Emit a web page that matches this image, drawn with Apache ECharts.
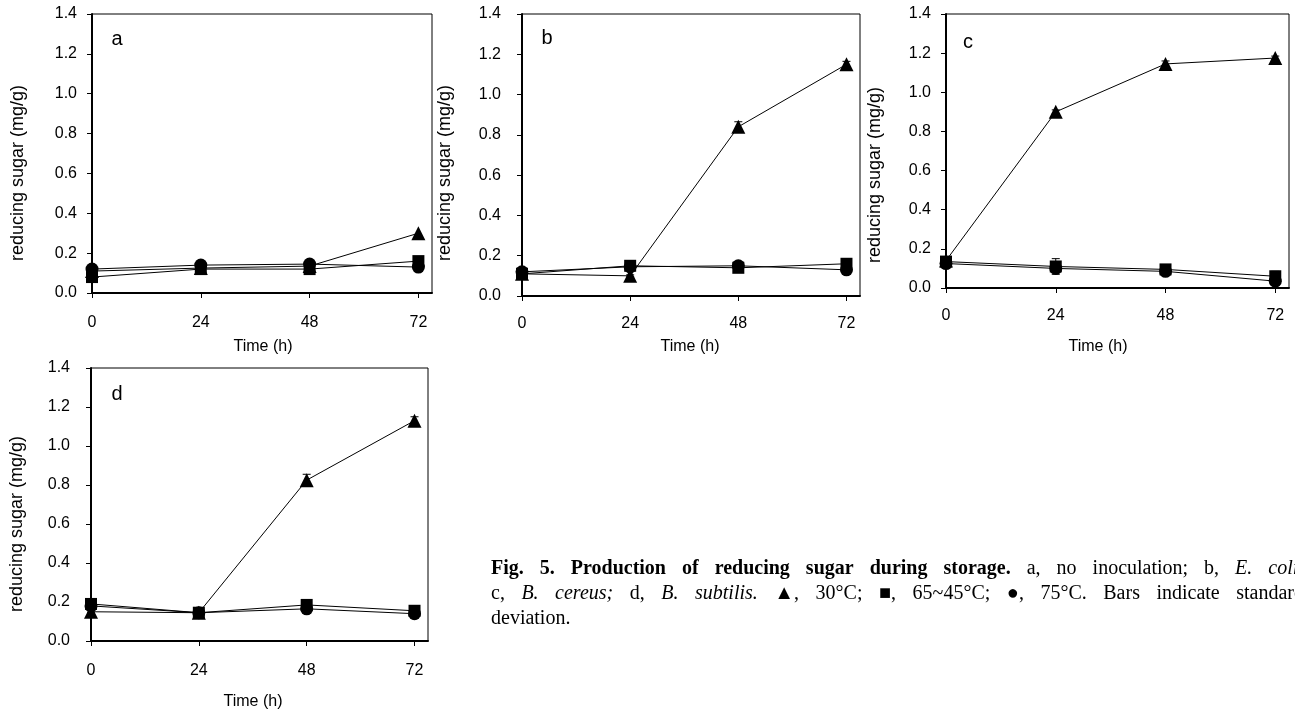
<!DOCTYPE html>
<html>
<head>
<meta charset="utf-8">
<script src="https://cdn.jsdelivr.net/npm/echarts@6/dist/echarts.min.js"></script>
<style>
    html, body { margin: 0; padding: 0; background: #fff; }
    #chart { width: 1295px; height: 713px; }
</style>
</head>
<body>
<div id="chart"></div>
<script>
// Time points (h)
const hours = [0, 24, 48, 72];

// Reducing sugar (mg/g) - a, no inoculation
const aTri = [0.11, 0.125, 0.135, 0.30];
const aSq  = [0.08, 0.12, 0.12, 0.16];
const aCir = [0.12, 0.14, 0.145, 0.13];
// b, E. coli
const bTri = [0.11, 0.10, 0.84, 1.15];
const bSq  = [0.11, 0.15, 0.14, 0.16];
const bCir = [0.12, 0.145, 0.15, 0.13];
// c, B. cereus
const cTri = [0.14, 0.90, 1.145, 1.175];
const cSq  = [0.135, 0.11, 0.095, 0.06];
const cCir = [0.125, 0.10, 0.085, 0.035];
// d, B. subtilis
const dTri = [0.15, 0.145, 0.825, 1.13];
const dSq  = [0.19, 0.145, 0.185, 0.155];
const dCir = [0.18, 0.145, 0.165, 0.14];

// Standard deviations (only the visible ones)
const zeroErr  = [0, 0, 0, 0];
const bTriErr  = [0.005, 0.005, 0.025, 0.015];
const cTriErr  = [0.01, 0.01, 0.015, 0.01];
const cSqErr   = [0.01, 0.04, 0.01, 0.025];
const dTriErr  = [0.005, 0.005, 0.03, 0.02];

const panels = [
    { letter: 'a', tri: aTri, sq: aSq, cir: aCir, triErr: zeroErr, sqErr: zeroErr,
      grid: { left: 92, top: 14, width: 340, height: 279 }, labelMargin: 15, xLabelMargin: 22,
      letterPos: [117, 39], yNamePos: [18, 173], xNamePos: [263, 347] },
    { letter: 'b', tri: bTri, sq: bSq, cir: bCir, triErr: bTriErr, sqErr: zeroErr,
      grid: { left: 522, top: 14, width: 338, height: 282 }, labelMargin: 21, xLabelMargin: 20,
      letterPos: [547, 38], yNamePos: [445, 173], xNamePos: [690, 347] },
    { letter: 'c', tri: cTri, sq: cSq, cir: cCir, triErr: cTriErr, sqErr: cSqErr,
      grid: { left: 946, top: 14, width: 343, height: 274 }, labelMargin: 15, xLabelMargin: 20,
      letterPos: [968, 42], yNamePos: [875, 175], xNamePos: [1098, 347] },
    { letter: 'd', tri: dTri, sq: dSq, cir: dCir, triErr: dTriErr, sqErr: zeroErr,
      grid: { left: 91, top: 368, width: 337, height: 273 }, labelMargin: 21, xLabelMargin: 22,
      letterPos: [117, 394], yNamePos: [17, 524], xNamePos: [253, 702] }
];

const sansFont = '"Liberation Sans", Arial, sans-serif';
const serifFont = '"Liberation Serif", "Times New Roman", serif';

const chart = echarts.init(document.getElementById('chart'), null, { renderer: 'canvas' });

const grids = [], xAxes = [], yAxes = [], series = [], graphics = [];

function errorBars(idx, vals, errs) {
    return {
        type: 'custom',
        xAxisIndex: idx,
        yAxisIndex: idx,
        z: 1,
        silent: true,
        data: hours.map((h, i) => [h, vals[i], errs[i]]),
        renderItem: (params, api) => {
            const e = api.value(2);
            if (!e) return null;
            const x = api.value(0), y = api.value(1);
            const top = api.coord([x, y + e]);
            const bot = api.coord([x, y - e]);
            const st = { stroke: '#000', lineWidth: 1 };
            return {
                type: 'group',
                children: [
                    { type: 'line', shape: { x1: top[0], y1: top[1], x2: bot[0], y2: bot[1] }, style: st },
                    { type: 'line', shape: { x1: top[0] - 4, y1: top[1], x2: top[0] + 4, y2: top[1] }, style: st },
                    { type: 'line', shape: { x1: bot[0] - 4, y1: bot[1], x2: bot[0] + 4, y2: bot[1] }, style: st }
                ]
            };
        }
    };
}

function lineSeries(idx, vals, symbol, size) {
    return {
        type: 'line',
        xAxisIndex: idx,
        yAxisIndex: idx,
        z: 3,
        data: hours.map((h, i) => [h, vals[i]]),
        symbol: symbol,
        symbolSize: size,
        showSymbol: true,
        itemStyle: { color: '#000' },
        lineStyle: { color: '#000', width: 1 },
        silent: true
    };
}

panels.forEach((p, idx) => {
    grids.push(Object.assign({ show: true, borderColor: '#000', borderWidth: 1 }, p.grid));

    xAxes.push({
        type: 'value',
        gridIndex: idx,
        min: 0,
        max: 75,
        interval: 24,
        axisLine: { onZero: false, lineStyle: { color: '#000', width: 2 } },
        axisTick: { inside: false, length: 5, customValues: hours, lineStyle: { color: '#000' } },
        axisLabel: { customValues: hours, margin: p.xLabelMargin, color: '#000', fontSize: 16, fontFamily: sansFont },
        splitLine: { show: false }
    });

    yAxes.push({
        type: 'value',
        gridIndex: idx,
        min: 0,
        max: 1.4,
        interval: 0.2,
        axisLine: { show: true, lineStyle: { color: '#000', width: 2 } },
        axisTick: { show: true, inside: false, length: 5, lineStyle: { color: '#000' } },
        axisLabel: {
            margin: p.labelMargin, color: '#000', fontSize: 16, fontFamily: sansFont,
            formatter: (v) => v.toFixed(1)
        },
        splitLine: { show: false }
    });

    series.push(errorBars(idx, p.tri, p.triErr));
    series.push(errorBars(idx, p.sq, p.sqErr));
    series.push(lineSeries(idx, p.tri, 'triangle', 14));
    series.push(lineSeries(idx, p.sq, 'rect', 12));
    series.push(lineSeries(idx, p.cir, 'circle', 13));

    // panel letter
    graphics.push({
        type: 'text', x: p.letterPos[0], y: p.letterPos[1],
        style: { text: p.letter, fill: '#000', font: '20px ' + sansFont, align: 'center', verticalAlign: 'middle' }
    });
    // y axis title
    graphics.push({
        type: 'text', x: p.yNamePos[0], y: p.yNamePos[1], rotation: Math.PI / 2,
        style: { text: 'reducing sugar (mg/g)', fill: '#000', font: '18px ' + sansFont, align: 'center', verticalAlign: 'middle' }
    });
    // x axis title
    graphics.push({
        type: 'text', x: p.xNamePos[0], y: p.xNamePos[1],
        style: { text: 'Time (h)', fill: '#000', font: '16px ' + sansFont, align: 'center', verticalAlign: 'middle' }
    });
});

// Figure caption, justified between a left and right edge
const captionLine1 = [
    ['Fig.', 'bold'], ['5.', 'bold'], ['Production', 'bold'], ['of', 'bold'], ['reducing', 'bold'],
    ['sugar', 'bold'], ['during', 'bold'], ['storage.', 'bold'], ['a,', ''], ['no', ''],
    ['inoculation;', ''], ['b,', ''], ['E.', 'italic'], ['coli;', 'italic']
];
const captionLine2 = [
    ['c,', ''], ['B.', 'italic'], ['cereus;', 'italic'], ['d,', ''], ['B.', 'italic'], ['subtilis.', 'italic'],
    ['\u25B2,', ''], ['30\u00B0C;', ''], ['\u25A0,', ''], ['65~45\u00B0C;', ''], ['\u25CF,', ''], ['75\u00B0C.', ''],
    ['Bars', ''], ['indicate', ''], ['standard', '']
];
const captionLine3 = [['deviation.', '']];

const measureCtx = document.createElement('canvas').getContext('2d');
function wordFont(st) {
    return (st ? st + ' ' : '') + '20px ' + serifFont;
}
function placeLine(words, x0, x1, y, justify) {
    const widths = words.map(([t, st]) => { measureCtx.font = wordFont(st); return measureCtx.measureText(t).width; });
    const total = widths.reduce((s, w) => s + w, 0);
    const gap = justify && words.length > 1 ? (x1 - x0 - total) / (words.length - 1) : 5;
    let x = x0;
    words.forEach(([t, st], i) => {
        graphics.push({
            type: 'text', x: x, y: y,
            style: { text: t, fill: '#000', font: wordFont(st), align: 'left', verticalAlign: 'middle' }
        });
        x += widths[i] + gap;
    });
}
placeLine(captionLine1, 491, 1305, 569, true);
placeLine(captionLine2, 491, 1304, 594, true);
placeLine(captionLine3, 491, 1304, 619, false);

chart.setOption({
    backgroundColor: '#fff',
    animation: false,
    grid: grids,
    xAxis: xAxes,
    yAxis: yAxes,
    series: series,
    graphic: graphics
});
window.addEventListener('resize', () => chart.resize());
</script>
</body>
</html>
